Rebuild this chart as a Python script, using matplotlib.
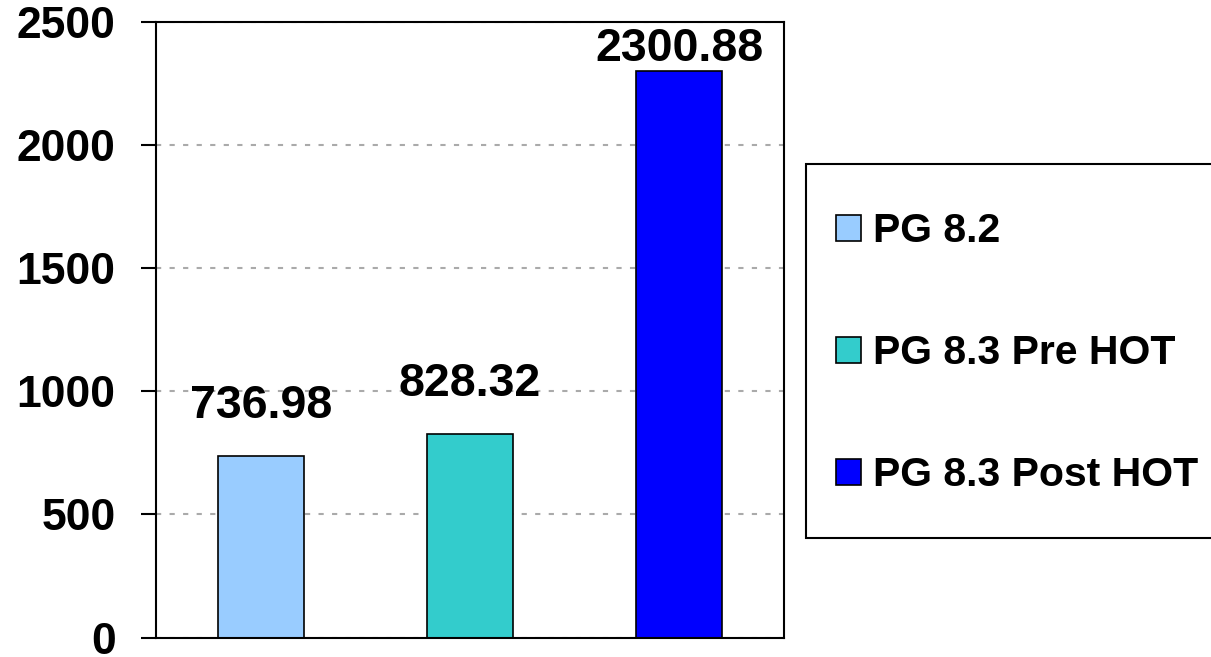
import matplotlib
matplotlib.use("Agg")
import matplotlib.pyplot as plt
from matplotlib.patches import Rectangle, Patch

series = ["PG 8.2", "PG 8.3 Pre HOT", "PG 8.3 Post HOT"]
values = [736.98, 828.32, 2300.88]
labels = ["736.98", "828.32", "2300.88"]
colors = ["#99CCFF", "#33CCCC", "#0000FF"]
yticks = [0, 500, 1000, 1500, 2000, 2500]

plt.rcParams['font.family'] = ['Liberation Sans', 'DejaVu Sans']
plt.rcParams['font.weight'] = 'bold'

W, H = 1211, 657
fig = plt.figure(figsize=(W / 100, H / 100), dpi=100)
ax = fig.add_axes([156 / W, (H - 637.5) / H, (784 - 156) / W, (637.5 - 22) / H])

x = list(range(len(values)))
ax.bar(x, values, width=0.41, color=colors, edgecolor='black', linewidth=1.2, zorder=3)

ax.set_xlim(-0.5, len(values) - 0.5)
ax.set_ylim(0, 2500)
ax.set_yticks(yticks)
ax.set_yticklabels([str(t) for t in yticks], fontsize=32, fontweight='bold')
ax.set_xticks([])
ax.tick_params(axis='y', direction='out', length=11, width=1.5, pad=18)
for s in ax.spines.values():
    s.set_linewidth(1.5)
    s.set_zorder(4)
ax.yaxis.grid(True, color='#aaaaaa', linestyle=(0, (2.5, 4)), linewidth=1.5, zorder=0)
ax.set_axisbelow(True)

label_offsets = [20, 20, 0]
for xi, v, lab, off in zip(x, values, labels, label_offsets):
    ax.annotate(lab, (xi, v), xytext=(0, off), textcoords='offset points',
                ha='center', va='bottom', fontsize=33.5, fontweight='bold',
                annotation_clip=False, zorder=5)

# legend frame
fig.patches.append(Rectangle((806 / W, (H - 538) / H), (1230 - 806) / W, (538 - 164) / H,
                             transform=fig.transFigure, facecolor='white',
                             edgecolor='black', linewidth=1.5, clip_on=False))
handles = [Patch(facecolor=c, edgecolor='black', linewidth=1.2) for c in colors]
leg = fig.legend(handles, series, loc='upper left',
                 bbox_to_anchor=(836 / W, (H - 212) / H), frameon=False,
                 prop={'size': 29.5, 'weight': 'bold'},
                 handlelength=0.61, handleheight=0.6, handletextpad=0.3,
                 labelspacing=2.05, borderpad=0, borderaxespad=0)

fig.savefig("out.png", dpi=100)
